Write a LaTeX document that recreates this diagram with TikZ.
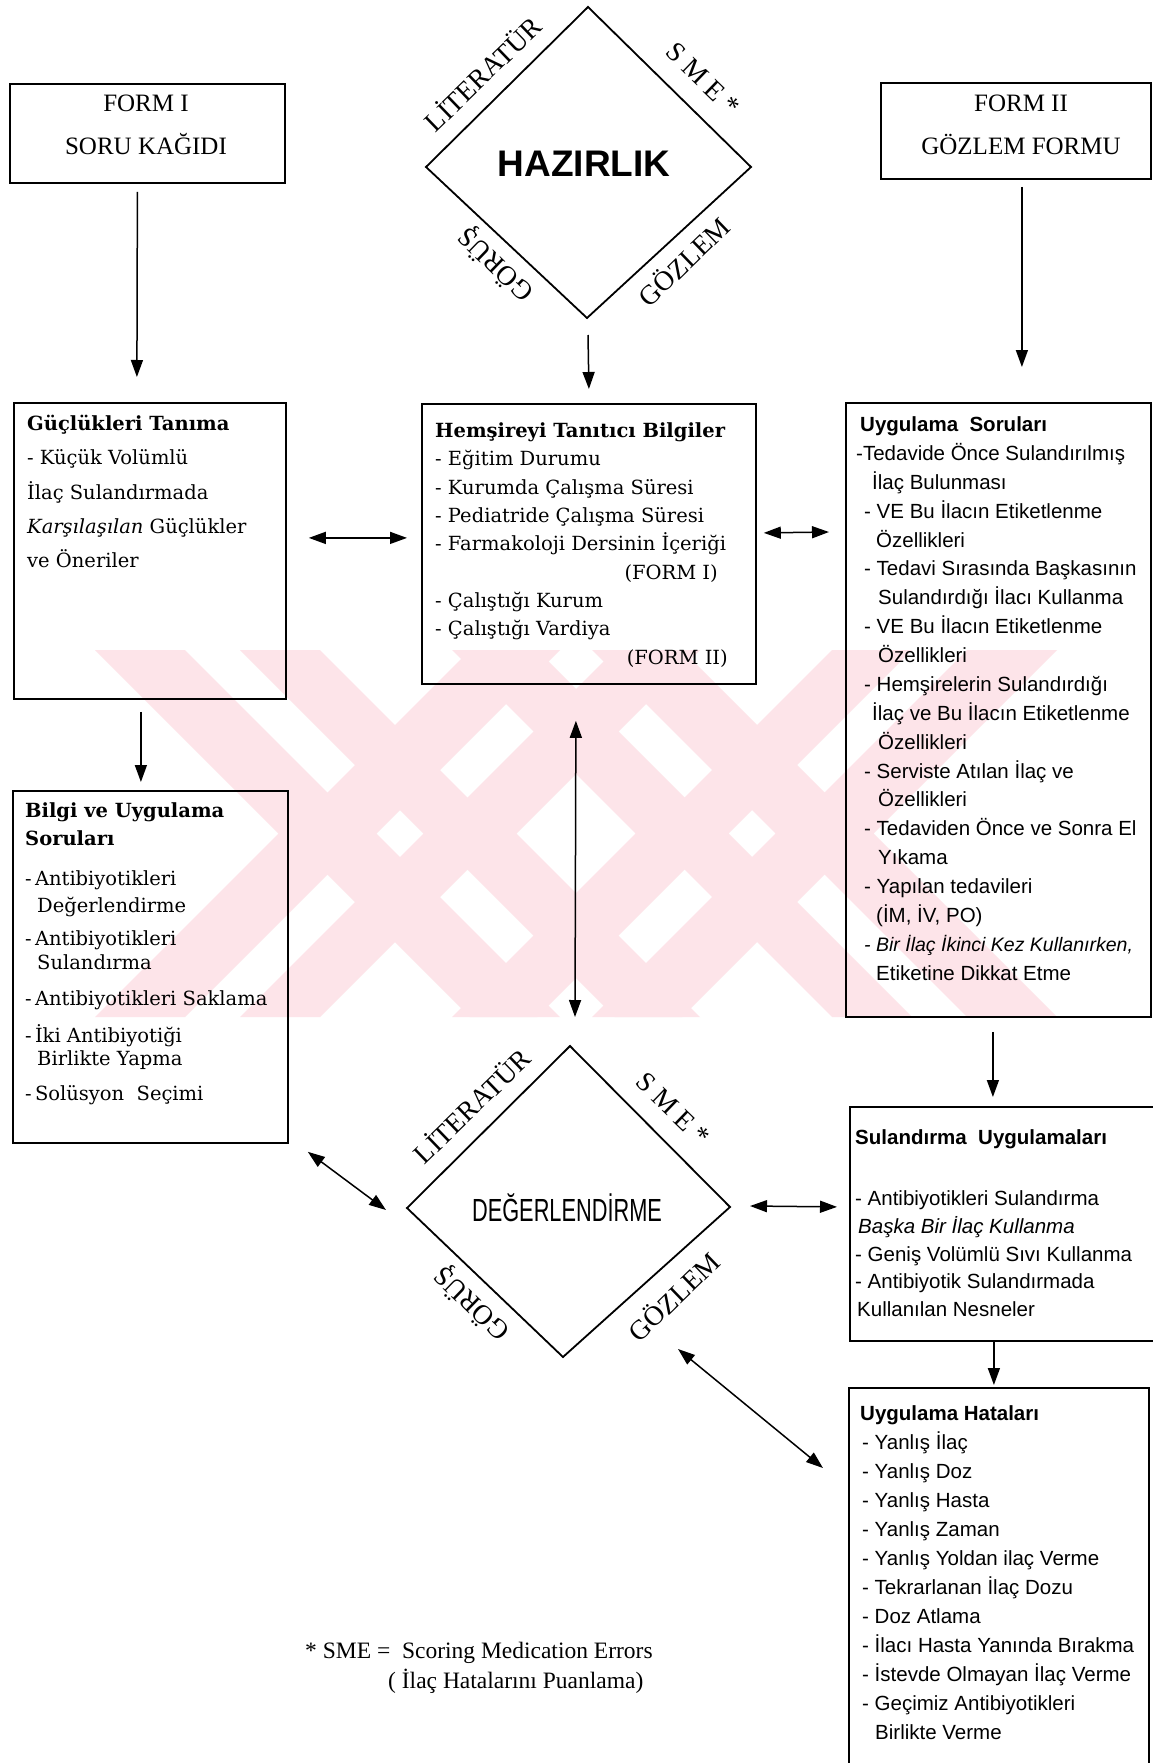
\documentclass[tikz,border=0pt]{standalone}
\usepackage{fontspec}
\usepackage{graphicx}
\usetikzlibrary{arrows.meta,calc}
\newfontfamily\sansf{Liberation Sans}
\newfontfamily\timesf{Liberation Serif}
\newfontfamily\serf{DejaVu Serif}
\definecolor{wmpink}{RGB}{253,228,233}
\tikzset{
  boxn/.style={draw, line width=1.8pt, inner sep=0pt, anchor=north west},
  lrm/.style={anchor=base west, inner sep=0pt, font=\serf\fontsize{19.5}{24}\selectfont},
  lsf/.style={anchor=base west, inner sep=0pt, font=\sansf\fontsize{20.5}{25}\selectfont},
  dlab/.style={inner sep=0pt, font=\timesf\fontsize{27.5}{30}\selectfont},
  formt/.style={inner sep=0pt, anchor=base, font=\timesf\fontsize{25}{30}\selectfont},
  fnote/.style={inner sep=0pt, anchor=base west, font=\timesf\fontsize{23.5}{27}\selectfont},
  arr/.style={line width=1.5pt, -{Triangle[length=17pt,width=12pt]}},
  darr/.style={line width=1.5pt, {Triangle[length=17pt,width=12pt]}-{Triangle[length=17pt,width=12pt]}},
  diam/.style={line width=1.8pt, line join=miter},
}
\begin{document}
\begin{tikzpicture}[x=1pt,y=-1pt]
\useasboundingbox (0,0) rectangle (1152,1763);
\fill[white] (0,0) rectangle (1152,1763);

% watermark
\def\wya{650}\def\wyb{1017}\def\wym{833.5}\def\wdd{183.5}
\foreach \a/\b in {95/185,240/320,452/537,592/682}{
  \fill[wmpink] (\a,\wya) -- (\b,\wya) -- (\b+\wdd,\wym) -- (\b,\wyb) -- (\a,\wyb) -- (\a+\wdd,\wym) -- cycle;}
\foreach \a/\b in {470/560,615/700,832/912,967/1057}{
  \fill[wmpink] (\a,\wya) -- (\b,\wya) -- (\b-\wdd,\wym) -- (\b,\wyb) -- (\a,\wyb) -- (\a-\wdd,\wym) -- cycle;}

% top boxes
\node[boxn, minimum width=275pt, minimum height=99pt] (form1) at (9,83) {};
\node[formt] (f1a) at (146,112) {FORM I};
\node[formt] (f1b) at (146,155) {SORU KAĞIDI};
\node[boxn, minimum width=270pt, minimum height=96pt] (form2) at (880,82) {};
\node[formt] (f2a) at (1021,112) {FORM II};
\node[formt] (f2b) at (1021,155) {GÖZLEM FORMU};

% HAZIRLIK diamond
\coordinate (hzt) at (588,7);
\coordinate (hzr) at (751,167);
\coordinate (hzb) at (587,318);
\coordinate (hzl) at (426,167);
\draw[diam] (hzt) -- (hzr) -- (hzb) -- (hzl) -- cycle;
\node[inner sep=0pt, font=\sansf\bfseries\fontsize{37}{40}\selectfont] (hz) at (584,164) {HAZIRLIK};
\node[dlab, rotate=44] (hzlit) at (482,73) {LİTERATÜR};
\node[dlab, rotate=-44] (hzsme) at (703,79) {S M E *};
\node[dlab, rotate=136] (hzgor) at (496,264) {GÖRÜŞ};
\node[dlab, rotate=44] (hzgoz) at (683,261) {GÖZLEM};

% Güçlükleri box
\node[boxn, minimum width=272pt, minimum height=296pt] (guc) at (13,402) {};
\node[lrm] (g1) at (27,430) {\bfseries Güçlükleri Tanıma};
\node[lrm] (g2) at (27,464) {- Küçük Volümlü};
\node[lrm] (g3) at (27,499) {İlaç Sulandırmada};
\node[lrm] (g4) at (27,533) {{\itshape Karşılaşılan} Güçlükler};
\node[lrm] (g5) at (27,567) {ve Öneriler};

% Hemşireyi box
\node[boxn, minimum width=334pt, minimum height=280pt] (hem) at (421,403) {};
\node[lrm] (h1) at (435,437) {\bfseries Hemşireyi Tanıtıcı Bilgiler};
\node[lrm] (h2) at (435,465) {- Eğitim Durumu};
\node[lrm] (h3) at (435,494) {- Kurumda Çalışma Süresi};
\node[lrm] (h4) at (435,522) {- Pediatride Çalışma Süresi};
\node[lrm] (h5) at (435,550) {- Farmakoloji Dersinin İçeriği};
\node[lrm, anchor=base east] (h6) at (718,579) {(FORM I)};
\node[lrm] (h7) at (435,607) {- Çalıştığı Kurum};
\node[lrm] (h8) at (435,635) {- Çalıştığı Vardiya};
\node[lrm, anchor=base east] (h9) at (728,664) {(FORM II)};

% Uygulama Soruları box
\node[boxn, minimum width=305pt, minimum height=614pt] (uyg) at (845,402) {};
\node[lsf] (u1) at (860,431) {\bfseries Uygulama\ \ Soruları};
\node[lsf] (u2) at (856,460) {-Tedavide Önce Sulandırılmış};
\node[lsf] (u3) at (872,489) {İlaç Bulunması};
\node[lsf] (u4) at (864,518) {- VE Bu İlacın Etiketlenme};
\node[lsf] (u5) at (876,547) {Özellikleri};
\node[lsf] (u6) at (864,575) {- Tedavi Sırasında Başkasının};
\node[lsf] (u7) at (878,604) {Sulandırdığı İlacı Kullanma};
\node[lsf] (u8) at (864,633) {- VE Bu İlacın Etiketlenme};
\node[lsf] (u9) at (878,662) {Özellikleri};
\node[lsf] (u10) at (864,691) {- Hemşirelerin Sulandırdığı};
\node[lsf] (u11) at (872,720) {İlaç ve Bu İlacın Etiketlenme};
\node[lsf] (u12) at (878,749) {Özellikleri};
\node[lsf] (u13) at (864,778) {- Serviste Atılan İlaç ve};
\node[lsf] (u14) at (878,806) {Özellikleri};
\node[lsf] (u15) at (864,835) {- Tedaviden Önce ve Sonra El};
\node[lsf] (u16) at (878,864) {Yıkama};
\node[lsf] (u17) at (864,893) {- Yapılan tedavileri};
\node[lsf] (u18) at (876,922) {(İM, İV, PO)};
\node[lsf, font=\sansf\itshape\fontsize{19.5}{24}\selectfont] (u19) at (864,951) {- Bir İlaç İkinci Kez Kullanırken,};
\node[lsf] (u20) at (876,980) {Etiketine Dikkat Etme};

% Bilgi box
\node[boxn, minimum width=275pt, minimum height=352pt] (bilgi) at (12,790) {};
\node[lrm] (b1) at (25,817) {\bfseries Bilgi ve Uygulama};
\node[lrm] (b2) at (25,845) {\bfseries Soruları};
\node[lrm] (b3) at (25,885) {-\,Antibiyotikleri};
\node[lrm] (b4) at (37,912) {Değerlendirme};
\node[lrm] (b5) at (25,945) {-\,Antibiyotikleri};
\node[lrm] (b6) at (37,969) {Sulandırma};
\node[lrm] (b7) at (25,1005) {-\,Antibiyotikleri Saklama};
\node[lrm] (b8) at (25,1042) {-\,İki Antibiyotiği};
\node[lrm] (b9) at (37,1065) {Birlikte Yapma};
\node[lrm] (b10) at (25,1100) {-\,Solüsyon\ \ Seçimi};

% DEĞERLENDİRME diamond
\coordinate (dgt) at (570,1046);
\coordinate (dgr) at (730,1207);
\coordinate (dgb) at (563,1357);
\coordinate (dgl) at (407,1208);
\draw[diam] (dgt) -- (dgr) -- (dgb) -- (dgl) -- cycle;
\node[inner sep=0pt] (dg) at (567,1208) {\scalebox{0.68}[1]{\sansf\fontsize{32}{34}\selectfont DEĞERLENDİRME}};
\node[dlab, rotate=44] (dglit) at (471,1105) {LİTERATÜR};
\node[dlab, rotate=-44] (dgsme) at (673,1109) {S M E *};
\node[dlab, rotate=136] (dggor) at (472,1303) {GÖRÜŞ};
\node[dlab, rotate=44] (dggoz) at (673,1296) {GÖZLEM};

% Sulandırma box
\node[boxn, minimum width=305pt, minimum height=234pt] (sul) at (849,1106) {};
\node[lsf] (s1) at (855,1144) {\bfseries Sulandırma\ \ Uygulamaları};
\node[lsf] (s2) at (855,1205) {- Antibiyotikleri Sulandırma};
\node[lsf] (s3) at (858,1233) {\itshape Başka Bir İlaç Kullanma};
\node[lsf] (s4) at (855,1261) {- Geniş Volümlü Sıvı Kullanma};
\node[lsf] (s5) at (855,1288) {- Antibiyotik Sulandırmada};
\node[lsf] (s6) at (857,1316) {Kullanılan Nesneler};

% Uygulama Hataları box
\node[boxn, minimum width=300pt, minimum height=390pt] (hat) at (848,1387) {};
\node[lsf] (t1) at (860,1420) {\bfseries Uygulama Hataları};
\node[lsf] (t2) at (862,1449) {- Yanlış İlaç};
\node[lsf] (t3) at (862,1478) {- Yanlış Doz};
\node[lsf] (t4) at (862,1507) {- Yanlış Hasta};
\node[lsf] (t5) at (862,1536) {- Yanlış Zaman};
\node[lsf] (t6) at (862,1565) {- Yanlış Yoldan ilaç Verme};
\node[lsf] (t7) at (862,1594) {- Tekrarlanan İlaç Dozu};
\node[lsf] (t8) at (862,1623) {- Doz Atlama};
\node[lsf] (t9) at (862,1652) {- İlacı Hasta Yanında Bırakma};
\node[lsf] (t10) at (862,1681) {- İstevde Olmayan İlaç Verme};
\node[lsf] (t11) at (862,1710) {- Geçimiz Antibiyotikleri};
\node[lsf] (t12) at (875,1739) {Birlikte Verme};

% footnote
\node[fnote] (fn1) at (305,1658) {* SME =\ \ Scoring Medication Errors};
\node[fnote] (fn2) at (388,1688) {( İlaç Hatalarını Puanlama)};

% connectors
\draw[arr] ($(form1.south)+(-10,8)$) -- ($(guc.north)+(-13,-25)$);
\draw[arr] ($(hzb)+(1,17)$) -- ($(hem.north)+(0,-14)$);
\draw[arr] ($(form2.south)+(6,7)$) -- ($(uyg.north)+(23.5,-35)$);
\draw[darr] ($(guc.east)+(22,-13)$) -- ($(hem.west)+(-14,-6)$);
\draw[darr] ($(hem.east)+(7,-11)$) -- ($(uyg.north west)+(-16,130)$);
\draw[arr] ($(guc.south)+(-9,12)$) -- ($(bilgi.north)+(-9.5,-8)$);
\draw[darr] ($(hem.south)+(-13,36)$) -- ($(dgt)+(5,-29)$);
\draw[darr] ($(bilgi.south east)+(19,8)$) -- ($(dgl)+(-21,2)$);
\draw[darr] ($(dgr)+(20,-1)$) -- ($(sul.west)+(-12,-17)$);
\draw[darr] ($(dgb)+(115,-8)$) -- ($(hat.north west)+(-25,81)$);
\draw[arr] ($(uyg.south)+(-5.5,14)$) -- ($(sul.north)+(-9.5,-9)$);
\draw[arr] ($(sul.south)+(-8.5,0)$) -- ($(hat.north)+(-5,-2)$);
\end{tikzpicture}
\end{document}
